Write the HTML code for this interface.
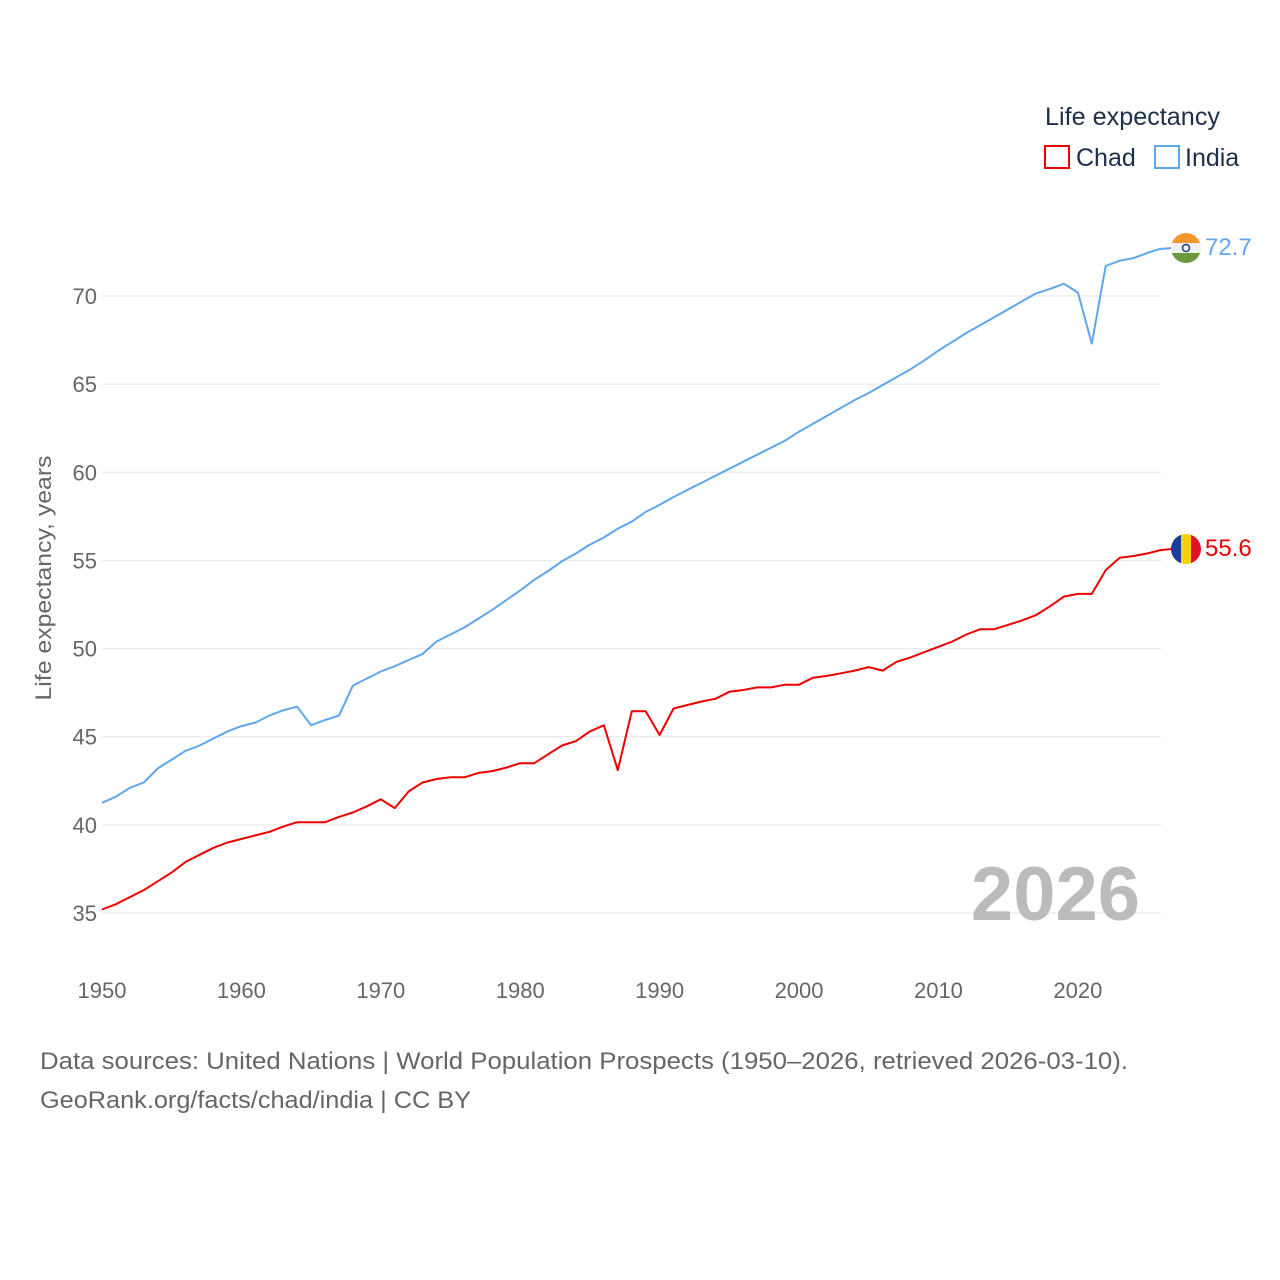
<!DOCTYPE html>
<html><head><meta charset="utf-8"><style>
html,body{margin:0;padding:0;background:#fff;}
svg{display:block;font-family:"Liberation Sans",sans-serif;}
</style></head><body>
<svg id="chart" width="1280" height="1280" viewBox="0 0 1280 1280">
<defs>
<clipPath id="cIn"><circle cx="1186" cy="248" r="15"/></clipPath>
<clipPath id="cTd"><circle cx="1186" cy="549" r="15"/></clipPath>
</defs>
<g id="grid"></g>
<g id="yticks"></g>
<g id="xticks"></g>
<text x="51" y="578" transform="rotate(-90 51 578)" text-anchor="middle" font-size="22" fill="#666" textLength="245" lengthAdjust="spacingAndGlyphs">Life expectancy, years</text>
<text x="1140" y="920" text-anchor="end" font-size="76" font-weight="bold" fill="#bbb">2026</text>
<g id="series"></g>
<line x1="1161" y1="249" x2="1172" y2="248" stroke="#5ea6ee" stroke-width="2"/>
<line x1="1161" y1="550" x2="1172" y2="549" stroke="#ee0000" stroke-width="2"/>
<g clip-path="url(#cIn)">
<rect x="1171" y="233" width="30" height="10" fill="#f7962a"/><rect x="1171" y="243" width="30" height="10" fill="#f0f0f0"/><rect x="1171" y="253" width="30" height="10" fill="#6b9a3c"/>
<circle cx="1186" cy="248" r="3.5" fill="none" stroke="#1a3c8c" stroke-width="1.5"/>
</g>
<g clip-path="url(#cTd)">
<rect x="1171" y="534" width="10" height="30" fill="#1a3c9c"/><rect x="1181" y="534" width="10" height="30" fill="#f8d20a"/><rect x="1191" y="534" width="10" height="30" fill="#e3102a"/>
</g>
<text x="1205" y="255" font-size="24" fill="#5ea6ee">72.7</text>
<text x="1205" y="556" font-size="24" fill="#ee0000">55.6</text>
<g>
<text x="1045" y="125" font-size="25" fill="#1c2e4a" textLength="175" lengthAdjust="spacingAndGlyphs">Life expectancy</text>
<g><rect x="1045" y="146" width="24" height="22" fill="none" stroke="#ee0000" stroke-width="2"/><text x="1076" y="166" font-size="25" fill="#1c2e4a">Chad</text></g>
<g><rect x="1155" y="146" width="24" height="22" fill="none" stroke="#5ea6ee" stroke-width="2"/><text x="1185" y="166" font-size="25" fill="#1c2e4a">India</text></g>
</g>
<text x="40" y="1069" font-size="24" fill="#666" textLength="1088" lengthAdjust="spacingAndGlyphs">Data sources: United Nations | World Population Prospects (1950–2026, retrieved 2026-03-10).</text>
<text x="40" y="1108" font-size="24" fill="#666" textLength="431" lengthAdjust="spacingAndGlyphs">GeoRank.org/facts/chad/india | CC BY</text>
</svg>
<script>
const years = [];
for (let y = 1950; y <= 2026; y++) years.push(y);
const india = [41.25,41.6,42.1,42.4,43.2,43.7,44.2,44.5,44.9,45.3,45.6,45.8,46.2,46.5,46.7,45.65,45.95,46.2,47.9,48.3,48.7,49.0,49.35,49.7,50.4,50.8,51.2,51.7,52.2,52.75,53.3,53.9,54.4,54.95,55.4,55.9,56.3,56.8,57.2,57.75,58.15,58.6,59.0,59.4,59.8,60.2,60.6,61.0,61.4,61.8,62.3,62.75,63.2,63.65,64.1,64.5,64.95,65.4,65.85,66.35,66.9,67.4,67.9,68.35,68.8,69.25,69.7,70.15,70.4,70.7,70.2,67.3,71.7,72.0,72.15,72.45,72.7];
const chad = [35.2,35.5,35.9,36.3,36.8,37.3,37.9,38.3,38.7,39.0,39.2,39.4,39.6,39.9,40.15,40.15,40.15,40.45,40.7,41.05,41.45,40.95,41.9,42.4,42.6,42.7,42.7,42.95,43.05,43.25,43.5,43.5,44.0,44.5,44.75,45.3,45.65,43.1,46.45,46.45,45.1,46.6,46.8,47.0,47.15,47.55,47.65,47.8,47.8,47.95,47.95,48.35,48.45,48.6,48.75,48.95,48.75,49.25,49.5,49.8,50.1,50.4,50.8,51.1,51.1,51.35,51.6,51.9,52.4,52.95,53.1,53.1,54.45,55.15,55.25,55.4,55.6];
const yTicks = [35,40,45,50,55,60,65,70];
const xTicks = [1950,1960,1970,1980,1990,2000,2010,2020];
const NS = "http://www.w3.org/2000/svg";
const xs = y => 102 + (y - 1950) * (1161.5 - 102) / 76;
const ys = v => 913 - (v - 35) * (913 - 296) / 35;
function mk(tag, attrs, parent, txt) {
  const e = document.createElementNS(NS, tag);
  for (const k in attrs) e.setAttribute(k, attrs[k]);
  if (txt !== undefined) e.textContent = txt;
  parent.appendChild(e);
  return e;
}
const grid = document.getElementById('grid'), yt = document.getElementById('yticks'), xt = document.getElementById('xticks'), ser = document.getElementById('series');
yTicks.forEach(v => {
  const l = mk('line', {x1: 102, x2: 1161, y1: ys(v), y2: ys(v), stroke: '#e6e6e6', 'stroke-width': 1}, grid);
  
  
  const t = mk('text', {x: 97, y: ys(v) + 8, 'text-anchor': 'end', 'font-size': 22, fill: '#666'}, yt, v);
  
  
});
xTicks.forEach(y => {
  const t = mk('text', {x: xs(y), y: 998, 'text-anchor': 'middle', 'font-size': 22, fill: '#666'}, xt, y);
  
  
});
function line(vals, color, name) {
  const d = vals.map((v, i) => (i ? 'L' : 'M') + xs(years[i]).toFixed(1) + ',' + ys(v).toFixed(1)).join('');
  const p = mk('path', {d: d, fill: 'none', stroke: color, 'stroke-width': 2, 'stroke-linejoin': 'round'}, ser);
  
  
}
line(india, '#5ea6ee', 'india-line');
line(chad, '#ee0000', 'chad-line');
</script>
</body></html>
